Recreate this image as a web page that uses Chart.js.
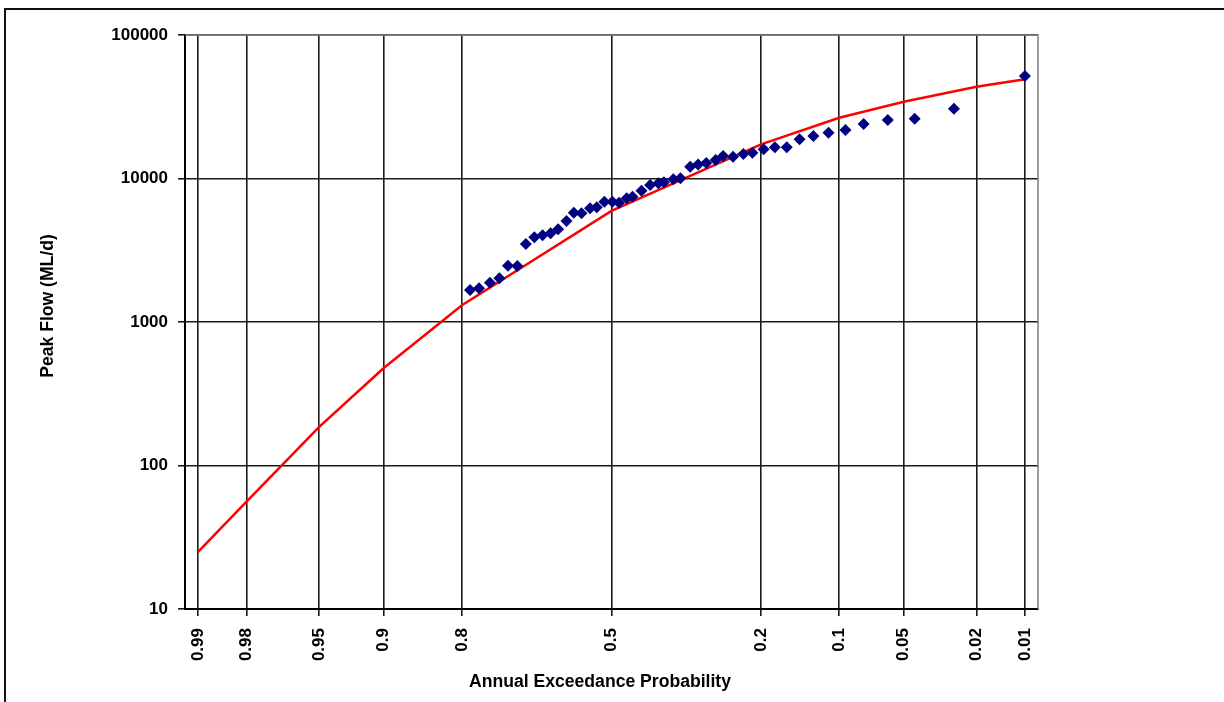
<!DOCTYPE html>
<html>
<head>
<meta charset="utf-8">
<script src="https://cdn.jsdelivr.net/npm/chart.js@4.4.1/dist/chart.umd.min.js"></script>
<style>
  html, body { margin: 0; padding: 0; background: #fff; overflow: hidden; }
  #wrap { position: relative; width: 1224px; height: 702px; }
  #frame { position: absolute; left: 4px; top: 8px; width: 1400px; height: 900px;
           border-left: 2px solid #111; border-top: 2px solid #111; }
  canvas { position: absolute; left: 0; top: 0; }
</style>
</head>
<body>
<div id="wrap">
  <div id="frame"></div>
  <canvas id="freqChart" width="1224" height="702"></canvas>
</div>
<script>
// probability axis labels (annual exceedance probability)
let probTicks = [0.99, 0.98, 0.95, 0.9, 0.8, 0.5, 0.2, 0.1, 0.05, 0.02, 0.01];
let probLabels = ['0.99', '0.98', '0.95', '0.9', '0.8', '0.5', '0.2', '0.1', '0.05', '0.02', '0.01'];
let flowTicks = [10, 100, 1000, 10000, 100000];

// fitted frequency curve
let curveAep = [0.99, 0.98, 0.95, 0.9, 0.8, 0.5, 0.2, 0.1, 0.05, 0.02, 0.01];
let curveFlow = [25, 56, 186, 478, 1310, 5950, 17300, 26500, 34300, 43600, 49100];

// observed annual peaks (plotting positions)
let obsAep = [0.787, 0.772, 0.753, 0.736, 0.720, 0.702, 0.685, 0.668, 0.651, 0.634,
              0.618, 0.600, 0.584, 0.567, 0.548, 0.533, 0.516, 0.498, 0.483, 0.466,
              0.453, 0.433, 0.414, 0.396, 0.384, 0.364, 0.349, 0.329, 0.313, 0.297,
              0.279, 0.265, 0.247, 0.229, 0.214, 0.196, 0.179, 0.162, 0.145, 0.128,
              0.111, 0.094, 0.078, 0.060, 0.044, 0.027, 0.010];
let obsFlow = [1670, 1720, 1880, 2020, 2470, 2455, 3500, 3890, 4020, 4150,
               4430, 5060, 5780, 5720, 6200, 6300, 6890, 6890, 6780, 7280,
               7470, 8230, 9010, 9260, 9410, 9870, 10030, 12080, 12520, 12830,
               13460, 14350, 14190, 14820, 15130, 15980, 16500, 16500, 18760, 19780,
               20850, 21780, 23990, 25570, 26100, 30650, 51760];

// inverse standard normal (Acklam)
function normInv(p) {
    const a = [-39.69683028665376, 220.9460984245205, -275.9285104469687, 138.3577518672690, -30.66479806614716, 2.506628277459239];
    const b = [-54.47609879822406, 161.5858368580409, -155.6989798598866, 66.80131188771972, -13.28068155288572];
    const c = [-0.007784894002430293, -0.3223964580411365, -2.400758277161838, -2.549732539343734, 4.374664141464968, 2.938163982698783];
    const d = [0.007784695709041462, 0.3224671290700398, 2.445134137142996, 3.754408661907416];
    const pl = 0.02425;
    let q, r;
    if (p < pl) {
        q = Math.sqrt(-2 * Math.log(p));
        return (((((c[0]*q+c[1])*q+c[2])*q+c[3])*q+c[4])*q+c[5]) / ((((d[0]*q+d[1])*q+d[2])*q+d[3])*q+1);
    }
    if (p > 1 - pl) {
        q = Math.sqrt(-2 * Math.log(1 - p));
        return -(((((c[0]*q+c[1])*q+c[2])*q+c[3])*q+c[4])*q+c[5]) / ((((d[0]*q+d[1])*q+d[2])*q+d[3])*q+1);
    }
    q = p - 0.5;
    r = q * q;
    return (((((a[0]*r+a[1])*r+a[2])*r+a[3])*r+a[4])*r+a[5])*q / (((((b[0]*r+b[1])*r+b[2])*r+b[3])*r+b[4])*r+1);
}

// position on the probability axis = standard normal variate of non-exceedance
function probX(aep) { return normInv(1 - aep); }

let curvePoints = curveAep.map((p, i) => ({x: probX(p), y: curveFlow[i]}));
let obsPoints = obsAep.map((p, i) => ({x: probX(p), y: obsFlow[i]}));
let probTickX = probTicks.map(probX);

const FONT = {family: '"Liberation Sans", Arial, sans-serif', size: 17, weight: 'bold'};

// gray box round the plot area, like the spreadsheet original
const plotFrame = {
    id: 'plotFrame',
    beforeDatasetsDraw(chart) {
        const {ctx, chartArea: a} = chart;
        ctx.save();
        ctx.strokeStyle = '#7f7f7f';
        ctx.lineWidth = 1.5;
        ctx.beginPath();
        ctx.moveTo(a.left, a.top);
        ctx.lineTo(a.right, a.top);
        ctx.lineTo(a.right, a.bottom);
        ctx.stroke();
        ctx.restore();
    }
};

// axis titles (placed as in the original, slightly off-centre)
const axisTitles = {
    id: 'axisTitles',
    afterDraw(chart) {
        const ctx = chart.ctx;
        ctx.save();
        ctx.fillStyle = '#000';
        ctx.font = 'bold 17.6px "Liberation Sans", Arial, sans-serif';
        ctx.textAlign = 'center';
        ctx.textBaseline = 'alphabetic';
        ctx.fillText('Annual Exceedance Probability', 600, 687);
        ctx.translate(53, 306);
        ctx.rotate(-Math.PI / 2);
        ctx.fillText('Peak Flow (ML/d)', 0, 0);
        ctx.restore();
    }
};

let ctx = document.getElementById('freqChart').getContext('2d');
let chart = new Chart(ctx, {
    type: 'scatter',
    data: {
        datasets: [{
            label: 'Observed',
            data: obsPoints,
            pointStyle: 'rectRot',
            pointRadius: 6,
            pointBackgroundColor: '#000080',
            pointBorderColor: '#000080',
            pointBorderWidth: 0,
            order: 1
        },
        {
            label: 'Fitted',
            data: curvePoints,
            showLine: true,
            borderColor: '#ff0000',
            borderWidth: 2.5,
            pointRadius: 0,
            tension: 0,
            order: 2
        }]
    },
    options: {
        responsive: false,
        animation: false,
        devicePixelRatio: 1,
        layout: {padding: {left: 0, top: 35, right: 186, bottom: 0}},
        plugins: {
            legend: {display: false},
            tooltip: {enabled: false}
        },
        scales: {
            x: {
                type: 'linear',
                min: -2.4,
                max: 2.4,
                afterBuildTicks: scale => { scale.ticks = probTickX.map(v => ({value: v})); },
                afterFit: scale => { scale.height = 93; },
                ticks: {
                    autoSkip: false,
                    minRotation: 90,
                    maxRotation: 90,
                    padding: 12,
                    color: '#000',
                    font: FONT,
                    callback: (v, i) => probLabels[i]
                },
                grid: {color: '#1a1a1a', lineWidth: 1.6, tickLength: 7},
                border: {color: '#000', width: 2}
            },
            y: {
                type: 'logarithmic',
                min: 10,
                max: 100000,
                afterBuildTicks: scale => { scale.ticks = flowTicks.map(v => ({value: v})); },
                afterFit: scale => { scale.width = 185; },
                ticks: {
                    autoSkip: false,
                    padding: 10,
                    color: '#000',
                    font: FONT,
                    callback: v => String(v)
                },
                grid: {color: '#1a1a1a', lineWidth: 1.6, tickLength: 7},
                border: {color: '#000', width: 2}
            }
        }
    },
    plugins: [plotFrame, axisTitles]
});
</script>
</body>
</html>
